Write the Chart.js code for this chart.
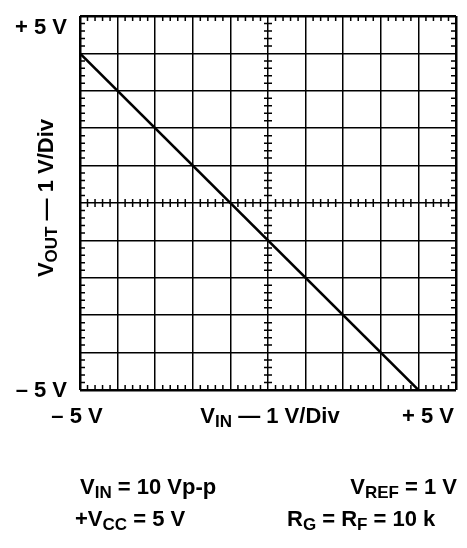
<!DOCTYPE html>
<html>
<head>
<meta charset="utf-8">
<script src="https://cdn.jsdelivr.net/npm/chart.js@4.4.0/dist/chart.umd.min.js"></script>
<style>
  html, body { margin: 0; padding: 0; background: #fff; }
  #wrap { width: 467px; height: 548px; position: relative; }
</style>
</head>
<body>
<div id="wrap"><canvas id="chart1" width="467" height="548"></canvas></div>
<script>
// transfer curve
const vinValues = [-5, 4];
const voutValues = [4, -5];

const axisMin = -5;
const axisMax = 5;
const majorStep = 1;
const minorStep = 0.2;

const yTickLabels = ['+ 5 V', '\u2013 5 V'];
const xTickLabels = ['\u2013 5 V', '+ 5 V'];
const xTitle = [['V', 0], ['IN', 1], [' \u2014 1 V/Div', 0]];
const yTitle = [['V', 0], ['OUT', 1], [' \u2014 1 V/Div', 0]];
const notes = [
  [[['V', 0], ['IN', 1], [' = 10 Vp-p', 0]], 'left'],
  [[['V', 0], ['REF', 1], [' = 1 V', 0]], 'right'],
  [[['+V', 0], ['CC', 1], [' = 5 V', 0]], 'left'],
  [[['R', 0], ['G', 1], [' = R', 0], ['F', 1], [' = 10 k', 0]], 'left']
];

const FONT = 'bold 22px "Liberation Sans", Arial, sans-serif';
const SUBFONT = 'bold 17px "Liberation Sans", Arial, sans-serif';

function richWidth(ctx, parts) {
  let w = 0;
  parts.forEach(p => {
    ctx.font = p[1] ? SUBFONT : FONT;
    w += ctx.measureText(p[0]).width;
  });
  return w;
}

function drawRich(ctx, parts, x, y, align) {
  const w = richWidth(ctx, parts);
  let cx = x;
  if (align === 'center') cx = x - w / 2;
  if (align === 'right') cx = x - w;
  ctx.textBaseline = 'middle';
  ctx.textAlign = 'left';
  parts.forEach(p => {
    ctx.font = p[1] ? SUBFONT : FONT;
    ctx.fillText(p[0], cx, p[1] ? y + 5 : y);
    cx += ctx.measureText(p[0]).width;
  });
}

const scopeDecor = {
  id: 'scopeDecor',
  afterDatasetsDraw(chart) {
    const ctx = chart.ctx;
    const area = chart.chartArea;
    const xs = chart.scales.x;
    const ys = chart.scales.y;
    const x0 = xs.getPixelForValue(0);
    const y0 = ys.getPixelForValue(0);

    // minor ticks on border and centre axes
    ctx.save();
    ctx.strokeStyle = '#000';
    ctx.lineWidth = 1.5;
    ctx.beginPath();
    for (let i = 0; i <= (axisMax - axisMin) / minorStep; i++) {
      const v = axisMin + i * minorStep;
      if (Math.abs(v - Math.round(v)) < 1e-6) continue;
      const px = xs.getPixelForValue(v);
      const py = ys.getPixelForValue(v);
      ctx.moveTo(px, area.top); ctx.lineTo(px, area.top + 5);
      ctx.moveTo(px, area.bottom); ctx.lineTo(px, area.bottom - 5);
      ctx.moveTo(px, y0 - 4); ctx.lineTo(px, y0 + 4);
      ctx.moveTo(area.left, py); ctx.lineTo(area.left + 5, py);
      ctx.moveTo(area.right, py); ctx.lineTo(area.right - 5, py);
      ctx.moveTo(x0 - 4, py); ctx.lineTo(x0 + 4, py);
    }
    ctx.stroke();

    ctx.fillStyle = '#000';
    // y end labels
    drawRich(ctx, [[yTickLabels[0], 0]], area.left - 13, area.top + 12, 'right');
    drawRich(ctx, [[yTickLabels[1], 0]], area.left - 13, area.bottom + 1, 'right');
    // x end labels and title
    drawRich(ctx, [[xTickLabels[0], 0]], area.left - 3, area.bottom + 27, 'center');
    drawRich(ctx, [[xTickLabels[1], 0]], area.right - 28, area.bottom + 27, 'center');
    drawRich(ctx, xTitle, x0 + 2, area.bottom + 27, 'center');

    // rotated y title
    ctx.save();
    ctx.translate(47, y0 - 5);
    ctx.rotate(-Math.PI / 2);
    drawRich(ctx, yTitle, 0, 0, 'center');
    ctx.restore();

    // test conditions
    drawRich(ctx, notes[0][0], 80, 488, 'left');
    drawRich(ctx, notes[1][0], 457, 488, 'right');
    drawRich(ctx, notes[2][0], 75, 520, 'left');
    drawRich(ctx, notes[3][0], 287, 520, 'left');
    ctx.restore();
  }
};

const gridLine = {
  color: '#000',
  lineWidth: c => (c.tick && (c.tick.value === axisMin || c.tick.value === axisMax)) ? 2.5 : 1.5,
  drawTicks: false
};

new Chart(document.getElementById('chart1'), {
  type: 'scatter',
  data: {
    datasets: [{
      data: vinValues.map((v, i) => ({ x: v, y: voutValues[i] })),
      showLine: true,
      borderColor: '#000',
      borderWidth: 2.5,
      pointRadius: 0,
      fill: false
    }]
  },
  options: {
    responsive: false,
    animation: false,
    layout: { padding: { left: 80, top: 16, right: 11, bottom: 158 } },
    plugins: { legend: { display: false }, tooltip: { enabled: false } },
    scales: {
      x: {
        type: 'linear', min: axisMin, max: axisMax,
        ticks: { display: false, stepSize: majorStep },
        grid: gridLine,
        border: { display: false },
        afterFit: s => { s.height = 0; }
      },
      y: {
        type: 'linear', min: axisMin, max: axisMax,
        ticks: { display: false, stepSize: majorStep },
        grid: gridLine,
        border: { display: false },
        afterFit: s => { s.width = 0; }
      }
    }
  },
  plugins: [scopeDecor]
});
</script>
</body>
</html>
